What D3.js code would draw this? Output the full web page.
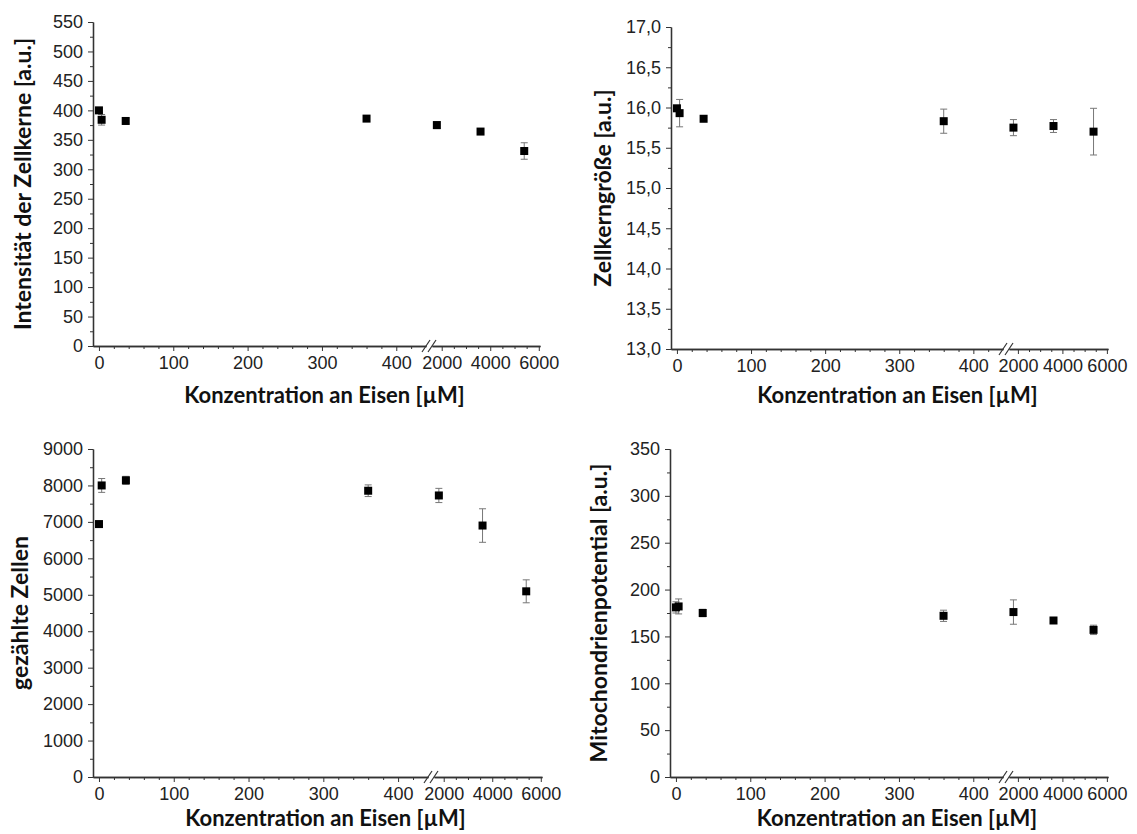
<!DOCTYPE html>
<html>
<head>
<meta charset="utf-8">
<script src="https://cdn.jsdelivr.net/npm/d3@7"></script>
<style>
  body { margin: 0; background: #fff; }
  svg { display: block; }
  .tick text { font-family: "Liberation Sans", Arial, sans-serif; font-size: 18px; fill: #222; }
  .title { font-family: Lato, "Open Sans", sans-serif; font-weight: bold; fill: #111; }
</style>
</head>
<body>
<svg width="1137" height="834"></svg>
<script>
// iron concentration (µM)
var conc = [0, 3.6, 36, 360, 1800, 3600, 5400];

var intensity    = [400, 384, 382, 386, 375, 364, 331];
var intensityErr = [4, 9, 4, 4, 6, 3, 14];

var nucSize    = [15.99, 15.93, 15.86, 15.83, 15.75, 15.77, 15.70];
var nucSizeErr = [0.03, 0.17, 0.02, 0.15, 0.10, 0.08, 0.29];

var cells    = [6940, 8000, 8140, 7855, 7725, 6900, 5095];
var cellsErr = [60, 190, 110, 160, 195, 460, 315];

var mito    = [181, 182, 175, 172, 176, 167, 157];
var mitoErr = [6, 8, 4, 6, 13, 2, 5];

var xTicksLow  = [0, 100, 200, 300, 400];
var xTicksHigh = [2000, 4000, 6000];

var xTitle = "Konzentration an Eisen [µM]";

var de = d3.formatLocale({decimal: ",", thousands: ".", grouping: [3], currency: ["", "€"]});

var panels = [
  {left: 93,  top: 22,  width: 447, height: 324, split: 0.746, titleY: 397, yLabX: 25,
   title: "Intensität der Zellkerne [a.u.]", vals: intensity, errs: intensityErr,
   yDomain: [0, 550], yStep: 50, fmt: d3.format("d")},
  {left: 671, top: 27,  width: 437, height: 322, split: 0.76, titleY: 397, yLabX: 605,
   title: "Zellkerngröße [a.u.]", vals: nucSize, errs: nucSizeErr,
   yDomain: [13, 17], yStep: 0.5, fmt: de.format(".1f")},
  {left: 93,  top: 449, width: 449, height: 328, split: 0.746, titleY: 820, yLabX: 22,
   title: "gezählte Zellen", vals: cells, errs: cellsErr,
   yDomain: [0, 9000], yStep: 1000, fmt: d3.format("d")},
  {left: 670, top: 449, width: 438, height: 328, split: 0.76, titleY: 820, yLabX: 601,
   title: "Mitochondrienpotential [a.u.]", vals: mito, errs: mitoErr,
   yDomain: [0, 350], yStep: 50, fmt: d3.format("d")}
];

var svg = d3.select("svg");

function range(a, b, s) {
  var out = [];
  for (var i = 0; a + i * s <= b + 1e-9; i++) out.push(+(a + i * s).toFixed(4));
  return out;
}

panels.forEach(function(p) {
  var g = svg.append("g").attr("transform", "translate(" + p.left + "," + p.top + ")");

  // broken x axis: two linear pieces
  var seg1 = Math.round(p.width * p.split);
  var gap = 6;
  var xLow = d3.scaleLinear().domain([-8, 440]).range([0, seg1]);
  var xHigh = d3.scaleLinear().domain([1600, 6050]).range([seg1 + gap, p.width]);
  var x = function(v) { return v <= 440 ? xLow(v) : xHigh(v); };

  var y = d3.scaleLinear().domain(p.yDomain).range([p.height, 0]);

  var majorY = range(p.yDomain[0], p.yDomain[1], p.yStep);
  var minorY = range(p.yDomain[0] + p.yStep / 2, p.yDomain[1], p.yStep);

  // y axis
  g.append("g")
    .call(d3.axisLeft(y).tickValues(minorY).tickFormat("").tickSize(3).tickSizeOuter(0));
  g.append("g")
    .call(d3.axisLeft(y).tickValues(majorY).tickFormat(p.fmt).tickSize(5).tickSizeOuter(0).tickPadding(5));

  // x axis, low part
  var minorLow = range(20, 420, 20).filter(function(v) { return v % 100 !== 0; });
  var gx = g.append("g").attr("transform", "translate(0," + p.height + ")");
  gx.append("g").call(d3.axisBottom(xLow).tickValues(minorLow).tickFormat("").tickSize(3).tickSizeOuter(0));
  gx.append("g").call(d3.axisBottom(xLow).tickValues(xTicksLow).tickFormat(d3.format("d")).tickSize(5).tickSizeOuter(0).tickPadding(5));

  // x axis, high part
  var minorHigh = [2500, 3000, 3500, 4500, 5000, 5500];
  gx.append("g").call(d3.axisBottom(xHigh).tickValues(minorHigh).tickFormat("").tickSize(3).tickSizeOuter(0));
  gx.append("g").call(d3.axisBottom(xHigh).tickValues(xTicksHigh).tickFormat(d3.format("d")).tickSize(5).tickSizeOuter(0).tickPadding(5));

  g.selectAll(".domain").attr("stroke", "#333").attr("stroke-width", 1.3);
  g.selectAll(".tick line").attr("stroke", "#333");

  // break marks
  var bx = seg1 + gap / 2;
  [-3, 3].forEach(function(o) {
    g.append("line")
      .attr("x1", bx + o - 4).attr("y1", p.height + 6)
      .attr("x2", bx + o + 4).attr("y2", p.height - 6)
      .attr("stroke", "#333").attr("stroke-width", 1.2);
  });

  // error bars
  var eb = g.append("g").attr("stroke", "#777").attr("stroke-width", 1);
  conc.forEach(function(c, i) {
    var cx = x(c), lo = y(p.vals[i] - p.errs[i]), hi = y(p.vals[i] + p.errs[i]);
    eb.append("line").attr("x1", cx).attr("x2", cx).attr("y1", lo).attr("y2", hi);
    eb.append("line").attr("x1", cx - 3.5).attr("x2", cx + 3.5).attr("y1", lo).attr("y2", lo);
    eb.append("line").attr("x1", cx - 3.5).attr("x2", cx + 3.5).attr("y1", hi).attr("y2", hi);
  });

  // markers
  g.selectAll("rect.pt")
    .data(conc)
    .enter()
    .append("rect")
    .attr("class", "pt")
    .attr("x", function(d) { return x(d) - 4; })
    .attr("y", function(d, i) { return y(p.vals[i]) - 4; })
    .attr("width", 8)
    .attr("height", 8)
    .attr("fill", "#000");

  // titles
  svg.append("text")
    .attr("class", "title")
    .style("font-size", "22px")
    .attr("x", p.left + p.width / 2 + 8)
    .attr("y", p.titleY)
    .attr("text-anchor", "middle")
    .attr("dominant-baseline", "middle")
    .text(xTitle);

  svg.append("text")
    .attr("class", "title")
    .style("font-size", "23px")
    .attr("transform", "translate(" + p.yLabX + "," + (p.top + p.height / 2) + ") rotate(-90)")
    .attr("text-anchor", "middle")
    .attr("dominant-baseline", "middle")
    .text(p.title);
});
</script>
</body>
</html>
